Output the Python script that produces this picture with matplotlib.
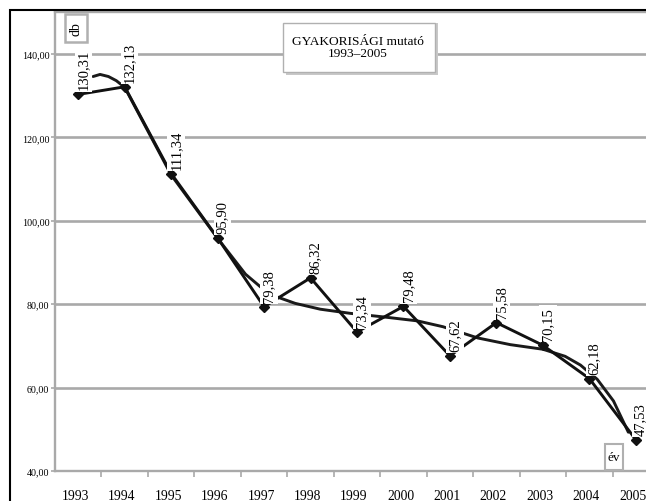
import matplotlib
matplotlib.use("Agg")
import matplotlib.pyplot as plt
import matplotlib.transforms as mtransforms
from matplotlib.patches import Rectangle

# ---- data ----
years = [1993, 1994, 1995, 1996, 1997, 1998, 1999, 2000, 2001, 2002, 2003, 2004, 2005]
values = [130.31, 132.13, 111.34, 95.90, 79.38, 86.32, 73.34, 79.48, 67.62, 75.58, 70.15, 62.18, 47.53]
value_labels = ["130,31", "132,13", "111,34", "95,90", "79,38", "86,32", "73,34",
                "79,48", "67,62", "75,58", "70,15", "62,18", "47,53"]
# smoothed trend curve (x in years, y in db)
trend_x = [1993.32, 1993.47, 1993.65, 1993.82, 1994.0, 1994.5, 1995.0, 1995.5, 1996.0,
           1996.6, 1996.96, 1997.24, 1997.67, 1998.21, 1998.86, 1999.61, 2000.3,
           2000.85, 2001.6, 2002.3, 2003.0, 2003.48, 2003.81, 2004.17, 2004.52, 2004.84]
trend_y = [134.6, 135.1, 134.6, 133.6, 132.0, 121.5, 111.0, 103.4, 95.8,
           87.2, 83.8, 81.9, 80.2, 78.8, 77.8, 76.9, 76.0,
           74.6, 71.9, 70.3, 69.2, 67.5, 65.4, 62.0, 56.8, 49.3]
yticks = [40, 60, 80, 100, 120, 140]
ytick_labels = ["40,00", "60,00", "80,00", "100,00", "120,00", "140,00"]
title_text = "GYAKORISÁGI mutató\n1993–2005"
y_unit = "db"
x_unit = "év"

W, H = 646, 502
fig = plt.figure(figsize=(W / 100, H / 100), dpi=100)
plt.rcParams['font.family'] = ['Liberation Serif', 'DejaVu Serif']


def fx(px):
    return px / W


def fy(py):
    return 1 - py / H


ax = fig.add_axes([fx(55), fy(472), fx(659) - fx(55), fy(13.3) - fy(472)])
ax.set_xlim(1992.5, 2005.5)
ax.set_ylim(40, 150)

grid_c = '#a9a9a9'
for v in yticks[1:]:
    ax.axhline(v, color=grid_c, lw=1.9, zorder=1)
for s in ax.spines.values():
    s.set_color(grid_c)
    s.set_linewidth(1.7)

ax.set_yticks(yticks)
ax.set_yticklabels(ytick_labels, fontsize=7.2)
ax.set_xticks(years)
ax.set_xticklabels([str(y) for y in years], fontsize=9.8)
ax.set_xticks([y + 0.5 for y in years[:-1]], minor=True)
ax.tick_params(axis='x', which='major', length=0, pad=13)
ax.tick_params(axis='x', which='minor', length=4, width=1.2, color=grid_c, direction='out')
ax.tick_params(axis='y', length=3, width=1.2, color=grid_c, pad=1)
shift = mtransforms.ScaledTranslation(-3 / 100, 0, fig.dpi_scale_trans)
for lab in ax.get_xticklabels():
    lab.set_transform(lab.get_transform() + shift)

ax.plot(trend_x, trend_y, color='#1a1a1a', lw=2.1, zorder=3, solid_capstyle='round',
        solid_joinstyle='round')
ax.plot(years, values, color='#111111', lw=2.1, marker='D', ms=5.5, zorder=4)

for x, v, lab in zip(years, values, value_labels):
    ax.annotate(lab, (x, v), xytext=(5, 5), textcoords='offset pixels',
                rotation=90, ha='center', va='bottom', fontsize=10.5,
                bbox=dict(boxstyle='square,pad=0.15', fc='white', ec='none'),
                zorder=6, annotation_clip=False)

# outer frame
fig.patches.append(Rectangle((fx(10), fy(560)), fx(700), fy(11) - fy(560),
                             transform=fig.transFigure, fill=False,
                             ec='black', lw=1.5, zorder=0))

# title box with shadow
fig.patches.append(Rectangle((fx(286), fy(76)), fx(152), fy(24) - fy(76),
                             transform=fig.transFigure, fc='#c8c8c8', ec='none', zorder=5))
fig.patches.append(Rectangle((fx(283), fy(73)), fx(152), fy(24) - fy(73),
                             transform=fig.transFigure, fc='white', ec='#b0b0b0',
                             lw=1.0, zorder=6))
fig.text(fx(358), fy(48), title_text, ha='center', va='center', fontsize=9.6,
         linespacing=1.0, zorder=7)

# db box
fig.patches.append(Rectangle((fx(65), fy(43)), fx(22), fy(15) - fy(43),
                             transform=fig.transFigure, fc='white', ec='#b0b0b0',
                             lw=1.8, zorder=6))
fig.text(fx(76), fy(29), y_unit, rotation=90, ha='center', va='center',
         fontsize=10, zorder=7)

# év box
fig.patches.append(Rectangle((fx(605), fy(471)), fx(18), fy(445) - fy(471),
                             transform=fig.transFigure, fc='white', ec='#b0b0b0',
                             lw=1.5, zorder=6))
fig.text(fx(614), fy(458), x_unit, ha='center', va='center', fontsize=9.5, zorder=7)

fig.savefig("out.png", dpi=100)
